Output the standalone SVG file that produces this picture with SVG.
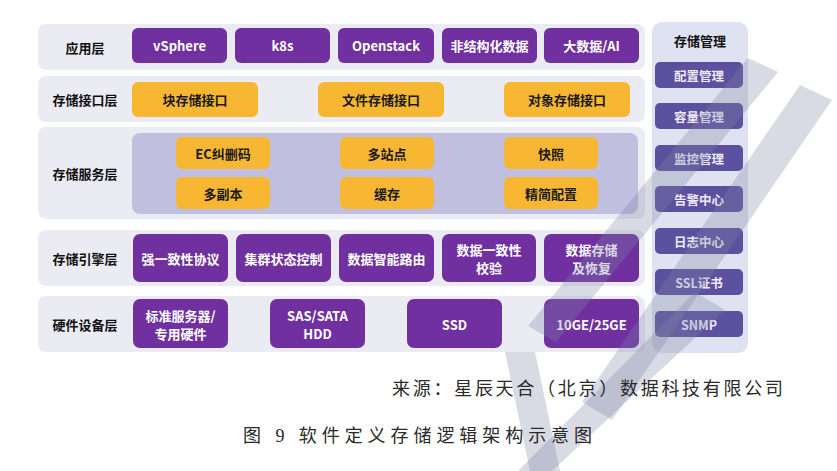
<svg xmlns="http://www.w3.org/2000/svg" width="837" height="471" viewBox="0 0 837 471">
<style>
.layer{fill:#ebebf3}
.lbl{font-family:"Noto Sans CJK SC","Liberation Sans",sans-serif;font-weight:700;font-size:13px;fill:#111;text-anchor:middle;dominant-baseline:central}
.pb{fill:#7030a0}
.ob{fill:#f7b733}
.pt{font-family:"Noto Sans CJK SC","Liberation Sans",sans-serif;font-weight:700;font-size:13px;fill:#fff;text-anchor:middle;dominant-baseline:central}
.ot{font-family:"Noto Sans CJK SC","Liberation Sans",sans-serif;font-weight:700;font-size:13px;fill:#1a1a1a;text-anchor:middle;dominant-baseline:central}
.mb{fill:#5c519f}
.mt{font-family:"Noto Sans CJK SC","Liberation Sans",sans-serif;font-weight:700;font-size:12.5px;fill:#eeeaf6;text-anchor:middle;dominant-baseline:central}
.cap{font-family:"Liberation Serif","Noto Sans CJK SC",serif;font-size:18px;fill:#2a2a2a}
.wm{fill:#7d84a6;fill-opacity:0.3;stroke:none}
</style>
<rect width="837" height="471" fill="#ffffff"/>

<g id="layer-app">
<rect class="layer" x="38" y="24" width="607" height="46" rx="8"/>
<text class="lbl" x="85" y="47">应用层</text>
</g>
<g id="app-vsphere"><rect class="pb" x="132" y="28" width="95" height="35" rx="6"/><text class="pt" x="179.5" y="45.5" font-size="14">vSphere</text></g>
<g id="app-k8s"><rect class="pb" x="235" y="28" width="95" height="35" rx="6"/><text class="pt" x="282.5" y="45.5">k8s</text></g>
<g id="app-openstack"><rect class="pb" x="338" y="28" width="96" height="35" rx="6"/><text class="pt" x="386" y="45.5">Openstack</text></g>
<g id="app-unstructured"><rect class="pb" x="442" y="28" width="95" height="35" rx="6"/><text class="pt" x="489.5" y="45.5">非结构化数据</text></g>
<g id="app-bigdata"><rect class="pb" x="544" y="28" width="95" height="35" rx="6"/><text class="pt" x="591.5" y="45.5">大数据/AI</text></g>

<g id="layer-interface">
<rect class="layer" x="38" y="76" width="607" height="46" rx="8"/>
<text class="lbl" x="85" y="99">存储接口层</text>
</g>
<g id="if-block"><rect class="ob" x="132" y="82" width="126" height="35" rx="6"/><text class="ot" x="195" y="99.5">块存储接口</text></g>
<g id="if-file"><rect class="ob" x="318" y="82" width="126" height="35" rx="6"/><text class="ot" x="381" y="99.5">文件存储接口</text></g>
<g id="if-object"><rect class="ob" x="504" y="82" width="126" height="35" rx="6"/><text class="ot" x="567" y="99.5">对象存储接口</text></g>

<g id="layer-service">
<rect class="layer" x="38" y="127" width="607" height="92" rx="8"/>
<rect x="132" y="133" width="506" height="81" rx="8" fill="#c1bfdf"/>
<text class="lbl" x="85" y="173">存储服务层</text>
</g>
<g id="svc-ec"><rect class="ob" x="176" y="137" width="94" height="32" rx="6"/><text class="ot" x="223" y="153">EC纠删码</text></g>
<g id="svc-multisite"><rect class="ob" x="340" y="137" width="94" height="32" rx="6"/><text class="ot" x="387" y="153">多站点</text></g>
<g id="svc-snapshot"><rect class="ob" x="504" y="137" width="94" height="32" rx="6"/><text class="ot" x="551" y="153">快照</text></g>
<g id="svc-replica"><rect class="ob" x="176" y="177" width="94" height="32" rx="6"/><text class="ot" x="223" y="193">多副本</text></g>
<g id="svc-cache"><rect class="ob" x="340" y="177" width="94" height="32" rx="6"/><text class="ot" x="387" y="193">缓存</text></g>
<g id="svc-thin"><rect class="ob" x="504" y="177" width="94" height="32" rx="6"/><text class="ot" x="551" y="193">精简配置</text></g>

<g id="layer-engine">
<rect class="layer" x="38" y="230" width="607" height="56" rx="8"/>
<text class="lbl" x="85" y="258">存储引擎层</text>
</g>
<g id="eng-consistency"><rect class="pb" x="133" y="234" width="95" height="48" rx="7"/><text class="pt" x="180.5" y="258">强一致性协议</text></g>
<g id="eng-cluster"><rect class="pb" x="236" y="234" width="95" height="48" rx="7"/><text class="pt" x="283.5" y="258">集群状态控制</text></g>
<g id="eng-routing"><rect class="pb" x="339" y="234" width="95" height="48" rx="7"/><text class="pt" x="386.5" y="258">数据智能路由</text></g>
<g id="eng-verify"><rect class="pb" x="442" y="234" width="94" height="48" rx="7"/><text class="pt" x="489" y="249">数据一致性</text><text class="pt" x="489" y="267">校验</text></g>
<g id="eng-recovery"><rect class="pb" x="544" y="234" width="95" height="48" rx="7"/><text class="pt" x="591.5" y="249">数据存储</text><text class="pt" x="591.5" y="267">及恢复</text></g>

<g id="layer-hardware">
<rect class="layer" x="38" y="296" width="607" height="56" rx="8"/>
<text class="lbl" x="85" y="324">硬件设备层</text>
</g>
<g id="hw-server"><rect class="pb" x="133" y="299" width="95" height="49" rx="7"/><text class="pt" x="180.5" y="315">标准服务器/</text><text class="pt" x="180.5" y="333">专用硬件</text></g>
<g id="hw-hdd"><rect class="pb" x="270" y="299" width="95" height="49" rx="7"/><text class="pt" x="317.5" y="315">SAS/SATA</text><text class="pt" x="317.5" y="333">HDD</text></g>
<g id="hw-ssd"><rect class="pb" x="407" y="299" width="95" height="49" rx="7"/><text class="pt" x="454.5" y="324">SSD</text></g>
<g id="hw-net"><rect class="pb" x="544" y="299" width="95" height="49" rx="7"/><text class="pt" x="591.5" y="324">10GE/25GE</text></g>

<g id="mgmt">
<rect x="652" y="22" width="96" height="331" rx="10" fill="#dfe2f0"/>
<text class="lbl" x="700" y="40">存储管理</text>
</g>
<g id="mgmt-config"><rect class="mb" x="655" y="62" width="88" height="26" rx="5"/><text class="mt" x="699" y="75">配置管理</text></g>
<g id="mgmt-capacity"><rect class="mb" x="655" y="103" width="88" height="26" rx="5"/><text class="mt" x="699" y="116">容量管理</text></g>
<g id="mgmt-monitor"><rect class="mb" x="655" y="145" width="88" height="26" rx="5"/><text class="mt" x="699" y="158">监控管理</text></g>
<g id="mgmt-alarm"><rect class="mb" x="655" y="186" width="88" height="26" rx="5"/><text class="mt" x="699" y="199">告警中心</text></g>
<g id="mgmt-log"><rect class="mb" x="655" y="228" width="88" height="26" rx="5"/><text class="mt" x="699" y="241">日志中心</text></g>
<g id="mgmt-ssl"><rect class="mb" x="655" y="269" width="88" height="26" rx="5"/><text class="mt" x="699" y="282">SSL证书</text></g>
<g id="mgmt-snmp"><rect class="mb" x="655" y="311" width="88" height="26" rx="5"/><text class="mt" x="699" y="324">SNMP</text></g>

<g id="connectors"></g>

<g id="watermark">
<path class="wm" d="M800 85 L832 100 L612 420 L582 402 Z"/>
<path class="wm" d="M748 58 L778 72 L556 342 L528 326 Z"/>
<path class="wm" d="M695 292 L725 310 L552 471 L518 471 Z"/>
<path class="wm" d="M505 352 L535 352 L560 471 L530 471 Z"/>
</g>

<text class="cap" x="392" y="395" textLength="391" lengthAdjust="spacing">来源：星辰天合（北京）数据科技有限公司</text>
<text class="cap" x="243" y="442" font-size="19" textLength="349" lengthAdjust="spacing">图 9 软件定义存储逻辑架构示意图</text>
</svg>
